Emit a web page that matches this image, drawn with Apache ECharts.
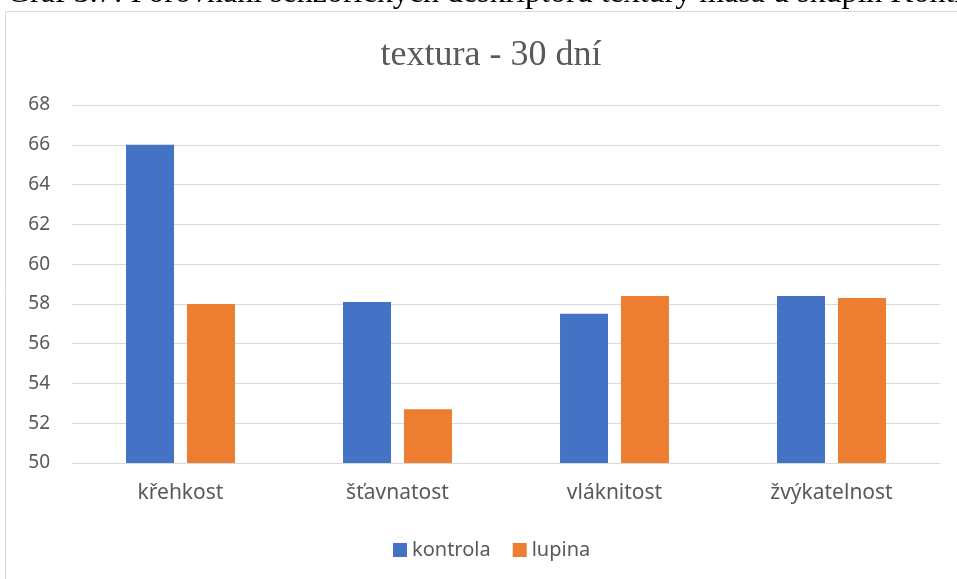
<!DOCTYPE html>
<html>
<head>
<meta charset="utf-8">
<script src="https://cdn.jsdelivr.net/npm/echarts@6/dist/echarts.min.js"></script>
<style>
  html, body { margin: 0; padding: 0; background: #ffffff; }
  #chart { width: 957px; height: 579px; }
</style>
</head>
<body>
<div id="chart"></div>
<script>
// Sensory texture descriptors after 30 days
const categories = ['křehkost', 'šťavnatost', 'vláknitost', 'žvýkatelnost'];
const kontrola = [66.0, 58.1, 57.5, 58.4];
const lupina = [58.0, 52.7, 58.4, 58.3];
const seriesNames = ['kontrola', 'lupina'];
const yTicks = { min: 50, max: 68, step: 2 };

const labelFont = '"Noto Sans", "Open Sans", sans-serif';
const serifFont = '"Liberation Serif", "Times New Roman", serif';
const textGray = '#595959';

const chart = echarts.init(document.getElementById('chart'), null, { renderer: 'canvas' });

chart.setOption({
  animation: false,
  backgroundColor: '#ffffff',
  title: {
    text: 'textura - 30 dní',
    left: 486,
    top: 33,
    textAlign: 'center',
    textStyle: {
      fontFamily: serifFont,
      fontSize: 36,
      fontWeight: 'normal',
      color: textGray
    }
  },
  graphic: [
    {
      type: 'rect',
      silent: true,
      shape: { x: 5.5, y: 11.5, width: 1000, height: 620 },
      style: { fill: 'none', stroke: '#d9d9d9', lineWidth: 1 }
    },
    {
      type: 'text',
      silent: true,
      left: 7,
      top: -22,
      style: {
        text: 'Graf 3.7: Porovnání senzorických deskriptorů textury masa u skupin Kontrola',
        font: '32px ' + serifFont,
        fill: '#000000'
      }
    }
  ],
  legend: {
    data: seriesNames,
    top: 535,
    left: 388,
    itemWidth: 14,
    itemHeight: 14,
    itemGap: 22,
    icon: 'rect',
    textStyle: { fontFamily: labelFont, fontSize: 20, color: textGray }
  },
  grid: {
    left: 72,
    right: 17,
    top: 105,
    bottom: 116,
    containLabel: false
  },
  xAxis: {
    type: 'category',
    data: categories,
    axisLine: { show: true, lineStyle: { color: '#d9d9d9', width: 1 } },
    axisTick: { show: false },
    axisLabel: { fontFamily: labelFont, fontSize: 21, color: textGray, margin: 20 }
  },
  yAxis: {
    type: 'value',
    min: yTicks.min,
    max: yTicks.max,
    interval: yTicks.step,
    axisLine: { show: false },
    axisTick: { show: false },
    splitLine: { lineStyle: { color: '#d9d9d9', width: 1 } },
    axisLabel: { fontFamily: labelFont, fontSize: 19, color: textGray, margin: 22 }
  },
  series: [
    {
      name: seriesNames[0],
      type: 'bar',
      data: kontrola,
      barWidth: 48,
      barGap: '27%',
      itemStyle: { color: '#4472C4' }
    },
    {
      name: seriesNames[1],
      type: 'bar',
      data: lupina,
      barWidth: 48,
      barGap: '27%',
      itemStyle: { color: '#ED7D31' }
    }
  ]
});
</script>
</body>
</html>
